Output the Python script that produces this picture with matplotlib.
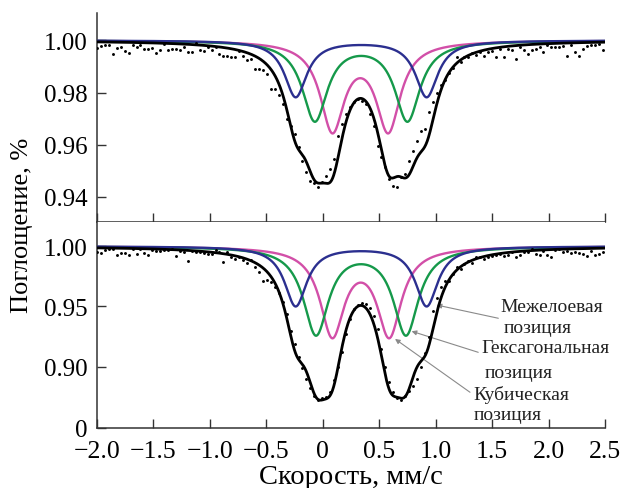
import numpy as np
import matplotlib
matplotlib.use("Agg")
import matplotlib.pyplot as plt

plt.rcParams['font.family'] = ['Liberation Serif', 'DejaVu Serif']

# ---------------- data ----------------
# velocity channels of the experimental spectrum (mm/s)
V_START = -2.0
V_STEP = 0.035
N_CH = 129

# experimental points, upper spectrum
top_points = [
    0.9971, 0.9978, 0.9983, 0.9982, 0.9948, 0.9970, 0.9976, 0.9960, 0.9950, 0.9983,
    0.9976, 0.9981, 0.9967, 0.9968, 0.9969, 0.9950, 0.9963, 0.9986, 0.9963, 0.9968,
    0.9968, 0.9963, 0.9976, 0.9954, 0.9954, 0.9991, 0.9963, 0.9960, 0.9973, 0.9963,
    0.9973, 0.9948, 0.9941, 0.9941, 0.9935, 0.9937, 0.9960, 0.9941, 0.9925, 0.9928,
    0.9892, 0.9890, 0.9887, 0.9873,
    0.9813, 0.9813, 0.9792, 0.9756, 0.9699, 0.9673, 0.9641, 0.9593, 0.9539, 0.9494,
    0.9462, 0.9452, 0.9437, 0.9456, 0.9482, 0.9507, 0.9545, 0.9635, 0.9679, 0.9718,
    0.9746, 0.9762, 0.9775, 0.9766, 0.9756, 0.9718, 0.9673, 0.9596, 0.9552, 0.9513,
    0.9469, 0.9443, 0.9439, 0.9475, 0.9488, 0.9539, 0.9577, 0.9616, 0.9654, 0.9660,
    0.9724, 0.9765,
    0.9800, 0.9830, 0.9848, 0.9875, 0.9895, 0.9935, 0.9916, 0.9935, 0.9937, 0.9950,
    0.9945, 0.9954, 0.9941, 0.9954, 0.9960, 0.9937, 0.9967, 0.9937, 0.9967, 0.9963,
    0.9928, 0.9976, 0.9963, 0.9948, 0.9963, 0.9967, 0.9973, 0.9954, 0.9983, 0.9976,
    0.9976, 0.9976, 0.9979, 0.9941, 0.9983, 0.9954, 0.9941, 0.9967, 0.9979, 0.9983,
    0.9983, 0.9986, 0.9963,
]

# experimental points, lower spectrum
bottom_points = [
    0.9955, 0.9942, 0.9969, 0.9975, 0.9975, 0.9930, 0.9942, 0.9942, 0.9930, 0.9975,
    0.9936, 0.9975, 0.9942, 0.9930, 0.9969, 0.9964, 0.9964, 0.9969, 0.9969, 0.9975,
    0.9922, 0.9960, 0.9950, 0.9881, 0.9964, 0.9950, 0.9950, 0.9942, 0.9936, 0.9936,
    0.9969, 0.9950, 0.9867, 0.9950, 0.9914, 0.9894, 0.9908, 0.9886, 0.9858, 0.9886,
    0.9831, 0.9784, 0.9709, 0.9720,
    0.9700, 0.9660, 0.9610, 0.9540, 0.9440, 0.9300, 0.9190, 0.9080, 0.8990, 0.8900,
    0.8820, 0.8760, 0.8720, 0.8740,
    0.8745, 0.8790, 0.8890, 0.9000, 0.9120, 0.9270, 0.9400, 0.9480, 0.9510, 0.9530,
    0.9520, 0.9490, 0.9420, 0.9310, 0.9150, 0.9000, 0.8870, 0.8790, 0.8740, 0.8720,
    0.8760, 0.8800, 0.8840, 0.8900, 0.9000, 0.9110, 0.9250, 0.9460, 0.9570, 0.9660,
    0.9710,
    0.9714, 0.9770, 0.9825, 0.9811, 0.9853, 0.9875, 0.9858, 0.9908, 0.9914, 0.9894,
    0.9908, 0.9922, 0.9930, 0.9936, 0.9922, 0.9930, 0.9950, 0.9908, 0.9930, 0.9950,
    0.9950, 0.9978, 0.9936, 0.9930, 0.9958, 0.9930, 0.9908, 0.9969, 0.9978, 0.9950,
    0.9958, 0.9942, 0.9950, 0.9942, 0.9936, 0.9922, 0.9958, 0.9930, 0.9936, 0.9950,
]

# fitted doublet components: line positions (mm/s), line depth, half-width (mm/s)
top_interlayer_pos = [-0.24, 0.92]
top_interlayer_depth = 0.0216
top_hexagonal_pos = [-0.07, 0.75]
top_hexagonal_depth = 0.0304
top_cubic_pos = [0.085, 0.58]
top_cubic_depth = 0.0335

bot_interlayer_pos = [-0.24, 0.92]
bot_interlayer_depth = 0.0495
bot_hexagonal_pos = [-0.06, 0.737]
bot_hexagonal_depth = 0.0723
bot_cubic_pos = [0.084, 0.589]
bot_cubic_depth = 0.0720

interlayer_hwhm = 0.12
hexagonal_hwhm = 0.135
cubic_hwhm = 0.13

x_tick_values = [-2.0, -1.5, -1.0, -0.5, 0.0, 0.5, 1.0, 1.5, 2.0, 2.5]
x_tick_labels = ['\u22122.0', '\u22121.5', '\u22121.0', '\u22120.5', '0',
                 '0.5', '1.0', '1.5', '2.0', '2.5']
top_y_ticks = [0.94, 0.96, 0.98, 1.00]
top_y_labels = ['0.94', '0.96', '0.98', '1.00']
bot_axis_break = 0.849
bot_y_ticks = [bot_axis_break, 0.90, 0.95, 1.00]
bot_y_labels = ['0', '0.90', '0.95', '1.00']

labels_interlayer = ['Межелоевая', 'позиция']
labels_hexagonal = ['Гексагональная', 'позиция']
labels_cubic = ['Кубическая', 'позиция']

# ---------------- drawing ----------------
C_BLUE = '#2b2f8f'
C_GREEN = '#15994a'
C_MAG = '#d24fa8'
C_SPINE = '#333333'

channels = V_START + V_STEP * np.arange(N_CH)
v = np.linspace(-2.0, 2.5, 1201)


def doublet(pos, depth, hwhm):
    out = np.zeros_like(v)
    for p in pos:
        out += depth / (1.0 + ((v - p) / hwhm) ** 2)
    return out


W, H = 622, 489
fig = plt.figure(figsize=(W / 100, H / 100), dpi=100)
L, R = 97, 605
ax1 = fig.add_axes([L / W, 1 - 223 / H, (R - L) / W, (223 - 14) / H])
ax2 = fig.add_axes([L / W, 1 - 429 / H, (R - L) / W, (429 - 223) / H])

panels = [
    (ax1, top_points,
     (top_interlayer_pos, top_interlayer_depth, interlayer_hwhm),
     (top_hexagonal_pos, top_hexagonal_depth, hexagonal_hwhm),
     (top_cubic_pos, top_cubic_depth, cubic_hwhm),
     (0.9304, 1.0105), top_y_ticks, top_y_labels),
    (ax2, bottom_points,
     (bot_interlayer_pos, bot_interlayer_depth, interlayer_hwhm),
     (bot_hexagonal_pos, bot_hexagonal_depth, hexagonal_hwhm),
     (bot_cubic_pos, bot_cubic_depth, cubic_hwhm),
     (bot_axis_break, 1.0202), bot_y_ticks, bot_y_labels),
]

for ax, pts, inter, hexa, cub, ylim, yt, yl in panels:
    d_int = doublet(*inter)
    d_hex = doublet(*hexa)
    d_cub = doublet(*cub)
    total = 1.0 - d_int - d_hex - d_cub
    ax.plot(v, 1.0 - d_cub, color=C_MAG, lw=1.7, zorder=2)
    ax.plot(v, 1.0 - d_hex, color=C_GREEN, lw=1.7, zorder=2)
    ax.plot(v, 1.0 - d_int, color=C_BLUE, lw=1.7, zorder=3)
    ax.plot(v, total, color='black', lw=2.0, zorder=4)
    ax.plot(channels, pts, 'o', color='black', ms=2.1, mew=0, zorder=5)
    ax.set_xlim(-2.0, 2.5)
    ax.set_ylim(*ylim)
    ax.set_yticks(yt)
    ax.set_yticklabels(yl)
    ax.set_xticks(x_tick_values)
    ax.spines['top'].set_visible(False)
    ax.spines['right'].set_visible(False)
    for s in ('left', 'bottom'):
        ax.spines[s].set_color(C_SPINE)
        ax.spines[s].set_linewidth(1.1)
    ax.tick_params(direction='in', length=6.5, width=1.0, color=C_SPINE,
                   labelsize=18, pad=7)

ax1.tick_params(axis='x', labelbottom=False)
ax2.set_xticklabels(x_tick_labels)
ax2.tick_params(axis='x', pad=9, labelsize=18.5)

# annotations (lower panel)
arrow_kw = dict(arrowstyle='-|>', color='#8a8a8a', lw=0.8, mutation_scale=7,
                shrinkA=0, shrinkB=0)
ax2.annotate('', xy=(1.009, 0.9512), xytext=(1.555, 0.9402), arrowprops=arrow_kw)
ax2.annotate('', xy=(0.787, 0.9294), xytext=(1.377, 0.9119), arrowprops=arrow_kw)
ax2.annotate('', xy=(0.640, 0.9230), xytext=(1.304, 0.8787), arrowprops=arrow_kw)

tkw = dict(ha='left', va='center', fontsize=14, color='#222222', clip_on=False)
ax2.text(1.570, 0.9501, labels_interlayer[0], **tkw)
ax2.text(1.605, 0.9327, labels_interlayer[1], **tkw)
ax2.text(1.401, 0.9161, labels_hexagonal[0], **tkw)
ax2.text(1.431, 0.8953, labels_hexagonal[1], **tkw)
ax2.text(1.333, 0.8773, labels_cubic[0], **tkw)
ax2.text(1.333, 0.8606, labels_cubic[1], **tkw)

fig.text(22 / W, 1 - 225 / H, 'Поглощение, %', rotation=90, ha='center',
         va='center', fontsize=19)
fig.text(351 / W, 1 - 478 / H, 'Скорость, мм/с', ha='center', va='center',
         fontsize=20.5)

fig.savefig('out.png', dpi=100)
